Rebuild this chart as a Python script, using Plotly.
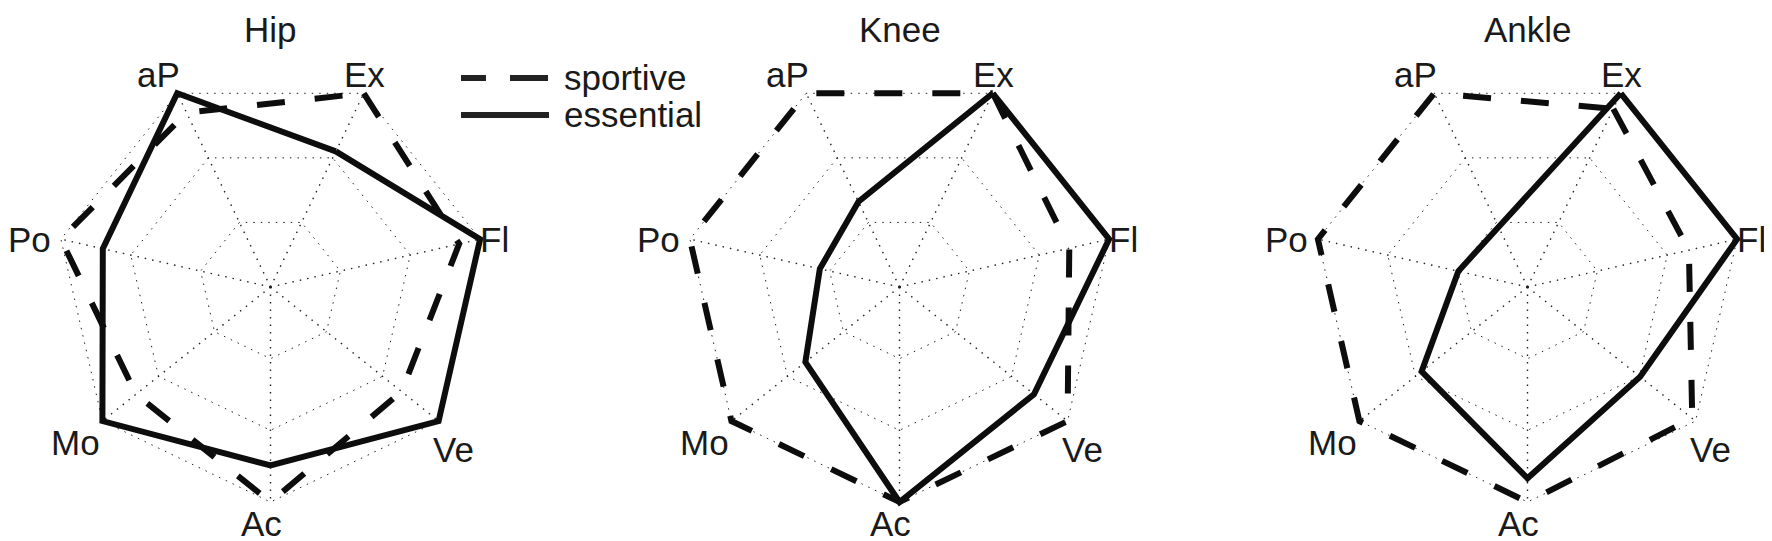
import math
import plotly.graph_objects as go

# Achsen (im Uhrzeigersinn ab "Ex")
kategorien = ["Ex", "Fl", "Ve", "Ac", "Mo", "Po", "aP"]
gelenke = ["Hip", "Knee", "Ankle"]
ringe = [1 / 3, 2 / 3, 1]

hip_sportive = [1.0, 0.9, 0.78, 1.0, 0.8, 1.0, 0.9]
hip_essential = [0.7, 1.0, 1.0, 0.83, 1.0, 0.8, 1.0]
knee_sportive = [1.0, 0.81, 1.0, 1.0, 1.0, 1.0, 1.0]
knee_essential = [1.0, 1.0, 0.8, 1.0, 0.56, 0.38, 0.44]
ankle_sportive = [0.92, 0.77, 0.98, 1.0, 1.0, 1.0, 1.0]
ankle_essential = [1.0, 1.0, 0.67, 0.89, 0.63, 0.33, 0.31]

daten = [
    (hip_sportive, hip_essential),
    (knee_sportive, knee_essential),
    (ankle_sportive, ankle_essential),
]

W, H = 1772, 541
zentren_x = [262.5, 891.5, 1519.5]
zentrum_y = 279
R = 215
rmax = 1.03  # etwas Luft, damit dicke Linien am Aussenring nicht abgeschnitten werden
rotation = 64.2857

# Beschriftungsversatz (px) gegenueber der Ecke, wie im Original
versatz = {"Ex": (1, -19), "Fl": (14, 0), "Ve": (15, 28), "Ac": (-9, 22),
           "Mo": (-27, 21), "Po": (-31, 0), "aP": (-19, -19)}

schwarz = "#0d0d0d"
grau = "#222"
schrift = "Liberation Sans, Arial, sans-serif"
strich_dash = "28px,30px"
gitter_dash = "1.5px,6px"
fs = 35


def schliessen(werte):
    return list(werte) + [werte[0]], kategorien + [kategorien[0]]


def text(x, y, t, anker="center"):
    fig.add_annotation(
        x=x / W, y=1 - y / H, xref="paper", yref="paper", text=t,
        showarrow=False, xanchor=anker, yanchor="middle", borderpad=0,
        font=dict(size=fs, color="#1a1a1a", family=schrift),
    )


fig = go.Figure()

for i, (sport, essen) in enumerate(daten):
    polar = "polar" if i == 0 else f"polar{i + 1}"

    # Speichen (gepunktet) von der Mitte bis zum Aussenring
    sr, st = [], []
    for k in kategorien:
        sr += [0, 1, None]
        st += [k, k, k]
    fig.add_trace(go.Scatterpolar(
        r=sr, theta=st, mode="lines", subplot=polar, connectgaps=False,
        line=dict(color=grau, width=1.4, dash=gitter_dash),
        hoverinfo="skip", showlegend=False
    ))

    r, th = schliessen(sport)
    fig.add_trace(go.Scatterpolar(
        r=r, theta=th, mode="lines", subplot=polar,
        line=dict(color=schwarz, width=6, dash=strich_dash),
        showlegend=False, name="sportive"
    ))
    r, th = schliessen(essen)
    fig.add_trace(go.Scatterpolar(
        r=r, theta=th, mode="lines", subplot=polar,
        line=dict(color=schwarz, width=6),
        showlegend=False, name="essential"
    ))

    cx = zentren_x[i]
    cy = H - zentrum_y
    rd = R * rmax
    fig.layout[polar] = dict(
        domain=dict(x=[(cx - rd) / W, (cx + rd) / W], y=[(cy - rd) / H, (cy + rd) / H]),
        gridshape="linear",
        bgcolor="rgba(0,0,0,0)",
        radialaxis=dict(
            range=[0, rmax], tickvals=ringe, showticklabels=False,
            ticks="", showline=False, gridcolor=grau, gridwidth=1.4, griddash=gitter_dash,
        ),
        angularaxis=dict(
            direction="clockwise", rotation=rotation, showline=False, ticks="",
            categoryorder="array", categoryarray=kategorien,
            showgrid=False, showticklabels=False,
        ),
    )

    # Achsenbeschriftungen
    for j, k in enumerate(kategorien):
        ang = math.radians(rotation - j * 360 / len(kategorien))
        dx, dy = versatz[k]
        text(cx + R * math.cos(ang) + dx, zentrum_y - R * math.sin(ang) + dy, k)

    text(cx, 21, gelenke[i])

# Legende von Hand
fig.add_shape(type="line", xref="paper", yref="paper",
              x0=453 / W, x1=541 / W, y0=1 - 70 / H, y1=1 - 70 / H,
              line=dict(color=grau, width=6, dash="25px,24px,38px,100px"))
fig.add_shape(type="line", xref="paper", yref="paper",
              x0=453 / W, x1=541 / W, y0=1 - 107 / H, y1=1 - 107 / H,
              line=dict(color=grau, width=6))
text(555, 70, "sportive", "left")
text(555, 106, "essential", "left")

fig.update_layout(
    width=W, height=H,
    margin=dict(l=0, r=0, t=0, b=0),
    paper_bgcolor="white",
    plot_bgcolor="white",
    showlegend=False,
    font=dict(family=schrift, color="#1a1a1a"),
)

fig.write_html("out.html")
